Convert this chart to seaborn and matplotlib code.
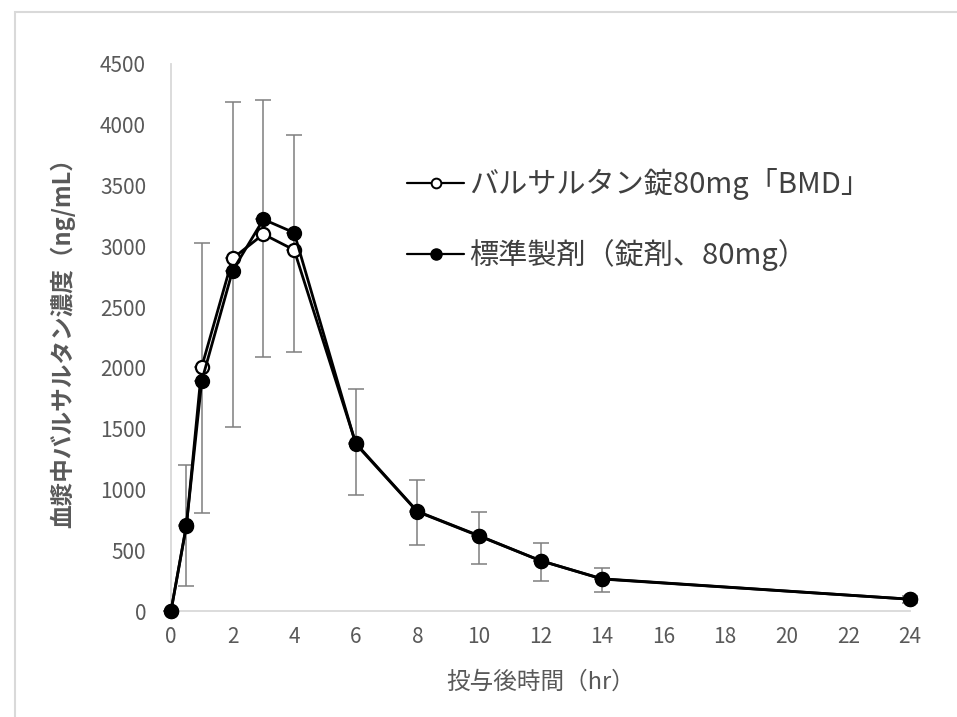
import matplotlib
matplotlib.use("Agg")
import matplotlib.pyplot as plt
import seaborn as sns
import pandas as pd
import numpy as np
from matplotlib.patches import Rectangle
from matplotlib.lines import Line2D

# ---- data ----
time_hr = [0, 0.5, 1, 2, 3, 4, 6, 8, 10, 12, 14, 24]
test_mean = [0, 700, 2010, 2900, 3100, 2970, 1380, 820, 620, 414, 265, 97]
test_sd = [0, 500, 1015, 1290, 1104, 946, 446, 258, 197, 148, 86, 30]
ref_mean = [0, 707, 1895, 2800, 3222, 3112, 1374, 817, 617, 414, 263, 97]
ref_sd = [0, 499, 1086, 1284, 1130, 984, 420, 274, 230, 165, 109, 30]
label_test = "バルサルタン錠80mg「BMD」"
label_ref = "標準製剤（錠剤、80mg）"
x_ticks = list(range(0, 25, 2))
y_ticks = list(range(0, 4501, 500))
xlabel = "投与後時間（hr）"
ylabel = "血漿中バルサルタン濃度（ng/mL）"

sns.set_theme(style="white")
plt.rcParams['font.family'] = ['Noto Sans CJK JP', 'DejaVu Sans']

fig = plt.figure(figsize=(9.57, 7.17), dpi=100)
ax = fig.add_axes([171/957, 1-611/717, (910-171)/957, (611-64)/717])

df_test = pd.DataFrame({"t": time_hr, "c": test_mean})
df_ref = pd.DataFrame({"t": time_hr, "c": ref_mean})

errc = "#7f7f7f"
ax.errorbar(time_hr, test_mean, yerr=[np.zeros(len(test_sd)), test_sd], fmt='none',
            ecolor=errc, elinewidth=1.1, capsize=6, capthick=1.1, zorder=1, clip_on=False)
ax.errorbar(time_hr, ref_mean, yerr=[ref_sd, np.zeros(len(ref_sd))], fmt='none',
            ecolor=errc, elinewidth=1.1, capsize=6, capthick=1.1, zorder=1, clip_on=False)

sns.lineplot(data=df_test, x="t", y="c", ax=ax, color="black", linewidth=2.0,
             marker="o", markersize=9.5, markerfacecolor="white", markeredgecolor="black",
             markeredgewidth=1.6, zorder=3, clip_on=False, legend=False)
sns.lineplot(data=df_ref, x="t", y="c", ax=ax, color="black", linewidth=2.0,
             marker="o", markersize=10, markerfacecolor="black", markeredgecolor="black",
             markeredgewidth=1.0, zorder=4, clip_on=False, legend=False)

ax.set_xlim(0, 24)
ax.set_ylim(0, 4500)
ax.set_xticks(x_ticks)
ax.set_yticks(y_ticks)
ax.set_xticklabels([str(v) for v in x_ticks])
ax.set_yticklabels([str(v) for v in y_ticks])

gridc = "#d9d9d9"
for s in ["top", "right"]:
    ax.spines[s].set_visible(False)
for s in ["left", "bottom"]:
    ax.spines[s].set_color(gridc)
    ax.spines[s].set_linewidth(1.3)
ax.tick_params(axis="both", direction="in", length=6, width=1.0, color=gridc,
               labelcolor="#595959", labelsize=15)
ax.tick_params(axis="x", pad=11)
ax.tick_params(axis="y", pad=18)
ax.grid(False)

ax.set_xlabel(xlabel, fontsize=17, color="#595959", labelpad=16)
ax.set_ylabel(ylabel, fontsize=17, color="#595959", fontweight="bold", labelpad=18)

handles = [
    Line2D([], [], color="black", lw=1.6, marker="o", markersize=7,
           markerfacecolor="white", markeredgecolor="black", markeredgewidth=1.4),
    Line2D([], [], color="black", lw=1.6, marker="o", markersize=8,
           markerfacecolor="black", markeredgecolor="black"),
]
leg = ax.legend(handles, [label_test, label_ref], loc="upper left",
                bbox_to_anchor=(0.32, 0.81), frameon=False, fontsize=21,
                labelspacing=1.35, handlelength=1.95, handletextpad=0.15,
                borderpad=0, borderaxespad=0)
for t in leg.get_texts():
    t.set_color("#404040")

fig.patches.append(Rectangle((15/957, -0.05), 1.2, 0.05 + 1 - 12/717,
                             transform=fig.transFigure, fill=False,
                             edgecolor="#d9d9d9", linewidth=1.5, zorder=0))

fig.savefig("out.png", dpi=100)
